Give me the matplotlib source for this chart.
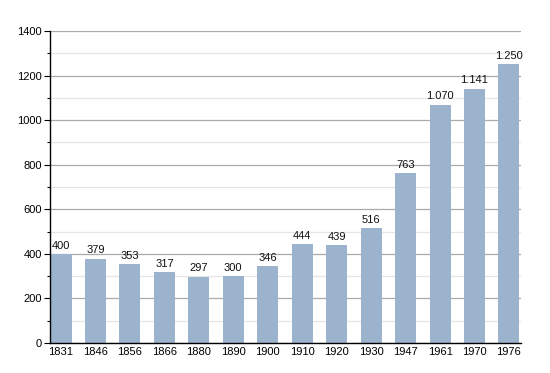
import matplotlib
matplotlib.use("Agg")
import matplotlib.pyplot as plt
from matplotlib.ticker import MultipleLocator

years = ["1831", "1846", "1856", "1866", "1880", "1890", "1900",
         "1910", "1920", "1930", "1947", "1961", "1970", "1976"]
population = [400, 379, 353, 317, 297, 300, 346, 444, 439, 516, 763, 1070, 1141, 1250]
labels = ["400", "379", "353", "317", "297", "300", "346",
          "444", "439", "516", "763", "1.070", "1.141", "1.250"]

plt.rcParams['font.family'] = ['Liberation Sans', 'DejaVu Sans']

fig = plt.figure(figsize=(5.5, 3.73), dpi=100)
ax = fig.add_axes([0.0909, 0.0804, 0.8564, 0.8365])

x = range(len(years))
ax.bar(x, population, width=0.61, color='#9bb3cd', zorder=2)
for i, v in enumerate(population):
    ax.text(i, v + 15, labels[i], ha='center', va='bottom', fontsize=8, color='#111111', zorder=3)

ax.set_ylim(0, 1400)
ax.set_xlim(-0.32, 13.35)
ax.yaxis.set_major_locator(MultipleLocator(200))
ax.yaxis.set_minor_locator(MultipleLocator(100))
ax.grid(axis='y', which='major', color='#aaaaaa', linewidth=0.9, zorder=0)
ax.grid(axis='y', which='minor', color='#e6e6e6', linewidth=0.9, zorder=0)
ax.set_xticks(list(x))
ax.set_xticklabels(years)
ax.tick_params(axis='x', length=0, labelsize=8, pad=3)
ax.tick_params(axis='y', which='major', length=4, width=0.8, labelsize=8, pad=2)
ax.tick_params(axis='y', which='minor', length=2, width=0.8)
for s in ['top', 'right']:
    ax.spines[s].set_visible(False)
ax.spines['left'].set_linewidth(1.0)
ax.spines['bottom'].set_linewidth(1.0)

fig.savefig("out.png", dpi=100)
